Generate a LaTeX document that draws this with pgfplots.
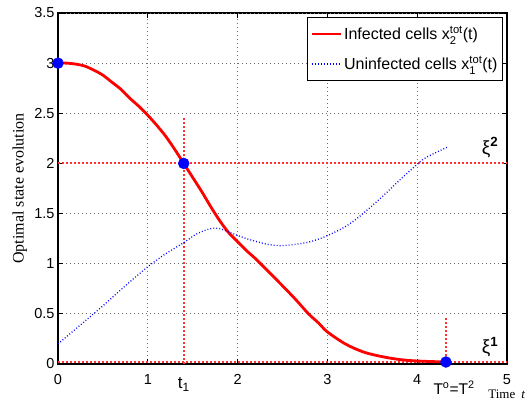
\documentclass[border=0pt]{standalone}
\usepackage{amsmath}
\usepackage{pgfplots}
\pgfplotsset{compat=1.18}
\usepackage{fontspec}
\setmainfont{Liberation Sans}
\newfontfamily\serif{Liberation Serif}
\definecolor{refred}{RGB}{255,50,50}
\definecolor{gridgray}{RGB}{110,110,110}
\begin{document}
\begin{tikzpicture}[x=1bp,y=1bp]
\begin{axis}[
  at={(0,0)}, anchor=south west,
  scale only axis, width=449bp, height=351bp,
  xmin=0, xmax=5, ymin=0, ymax=3.5,
  xtick={0,1,2,3,4,5}, ytick={0,0.5,1,1.5,2,2.5,3,3.5},
  tick align=inside, major tick length=5bp,
  axis line style={line width=1.2bp},
  every tick/.style={black, line width=0.8bp},
  xmajorgrids=true, ymajorgrids=false,
  extra y ticks={0.5,1,1.5,2.5,3,3.5},
  extra y tick labels={},
  extra y tick style={grid=major},
  major grid style={gridgray, line width=0.8bp, dash pattern=on 1bp off 3bp},
  tick label style={font=\fontsize{14.5bp}{16bp}\selectfont},
  /pgf/number format/assume math mode=true,
  yticklabel style={/pgf/number format/.cd, fixed, precision=1},
  xticklabel style={yshift=-7bp},
  clip=false,
  legend style={at={(1,1)}, anchor=north east, xshift=-4bp, yshift=-4bp,
    font=\fontsize{16bp}{18bp}\selectfont, draw=black, line width=1bp,
    inner xsep=3bp, inner ysep=7bp, row sep=11bp, cells={anchor=west}},
  legend image code/.code={\draw[#1] (0bp,0bp) -- (29bp,0bp);},
]
% reference lines
\addplot[draw=refred, line width=1.6bp, dash pattern=on 1.6bp off 2.4bp, forget plot] coordinates {(1.4,0) (1.4,2.45)};
\addplot[draw=refred, line width=2bp, dash pattern=on 2bp off 2bp, forget plot] coordinates {(0,2.0) (5,2.0)};
\addplot[draw=refred, line width=2bp, dash pattern=on 2bp off 2bp, forget plot] coordinates {(0,0.025) (5,0.025)};
\addplot[draw=refred, line width=1.6bp, dash pattern=on 1.6bp off 2.4bp, forget plot] coordinates {(4.32,0) (4.32,0.47)};
% infected
\addplot[red, line width=2.8bp, smooth, tension=0.5] coordinates {
(0,3.0) (0.1,3.0) (0.2,2.99) (0.3,2.97) (0.4,2.93) (0.5,2.88) (0.6,2.81) (0.7,2.74)
(0.8,2.65) (0.9,2.57) (1.0,2.48) (1.1,2.38) (1.2,2.27) (1.3,2.14) (1.4,2.0) (1.5,1.86)
(1.6,1.72) (1.7,1.57) (1.8,1.43) (1.9,1.31) (2.0,1.22) (2.1,1.13) (2.2,1.05) (2.3,0.96)
(2.5,0.78) (2.65,0.64) (2.79,0.5) (2.9,0.41) (3.0,0.32) (3.2,0.2) (3.4,0.12) (3.6,0.075)
(3.8,0.045) (4.0,0.03) (4.32,0.02)};
\addlegendentry{Infected cells $\text{x}_{\text{2}}^{\text{tot}}$(t)}
% uninfected
\addplot[blue, line width=1.3bp, dash pattern=on 0.9bp off 2.1bp, smooth, tension=0.5] coordinates {
(0,0.2) (0.25,0.39) (0.5,0.58) (0.75,0.78) (1.0,0.97) (1.2,1.1) (1.4,1.21) (1.55,1.3)
(1.7,1.35) (1.8,1.35) (1.92,1.31) (2.1,1.25) (2.3,1.2) (2.47,1.18) (2.7,1.2) (2.85,1.23)
(3.0,1.28) (3.2,1.37) (3.37,1.48) (3.6,1.66) (3.8,1.83) (4.0,1.99) (4.1,2.06) (4.33,2.16)};
\addlegendentry{Uninfected cells $\text{x}_{\text{1}}^{\text{tot}}$(t)}
% markers
\addplot[only marks, mark=*, mark size=5.5bp, blue, forget plot] coordinates {(0,3.0) (1.4,2.0) (4.32,0.02)};
% labels
\node[font=\fontsize{19bp}{21bp}\selectfont, inner sep=0] at (axis cs:4.81,2.16) {ξ\textsuperscript{\textbf{2}}};
\node[font=\fontsize{19bp}{21bp}\selectfont, inner sep=0] at (axis cs:4.81,0.17) {ξ\textsuperscript{\textbf{1}}};
\node[anchor=base, font=\fontsize{17bp}{19bp}\selectfont, inner sep=0] at (axis cs:1.4,-0.249) {t\textsubscript{1}};
\node[anchor=base, font=\fontsize{15.5bp}{17bp}\selectfont, inner sep=0] at (axis cs:4.41,-0.30) {T\textsuperscript{o}=T\textsuperscript{2}};
\node[anchor=base west, font=\serif\fontsize{13bp}{14bp}\selectfont, inner sep=0] at (axis cs:4.79,-0.339) {Time\hspace{6bp}\textit{t}};
\node[rotate=90, anchor=base, font=\serif\fontsize{16bp}{18bp}\selectfont, inner sep=0] at (axis cs:-0.384,1.75) {Optimal state evolution};
\end{axis}
\pgfresetboundingbox
\path[use as bounding box] (-58,-35) rectangle (472,364);
\end{tikzpicture}
\end{document}
